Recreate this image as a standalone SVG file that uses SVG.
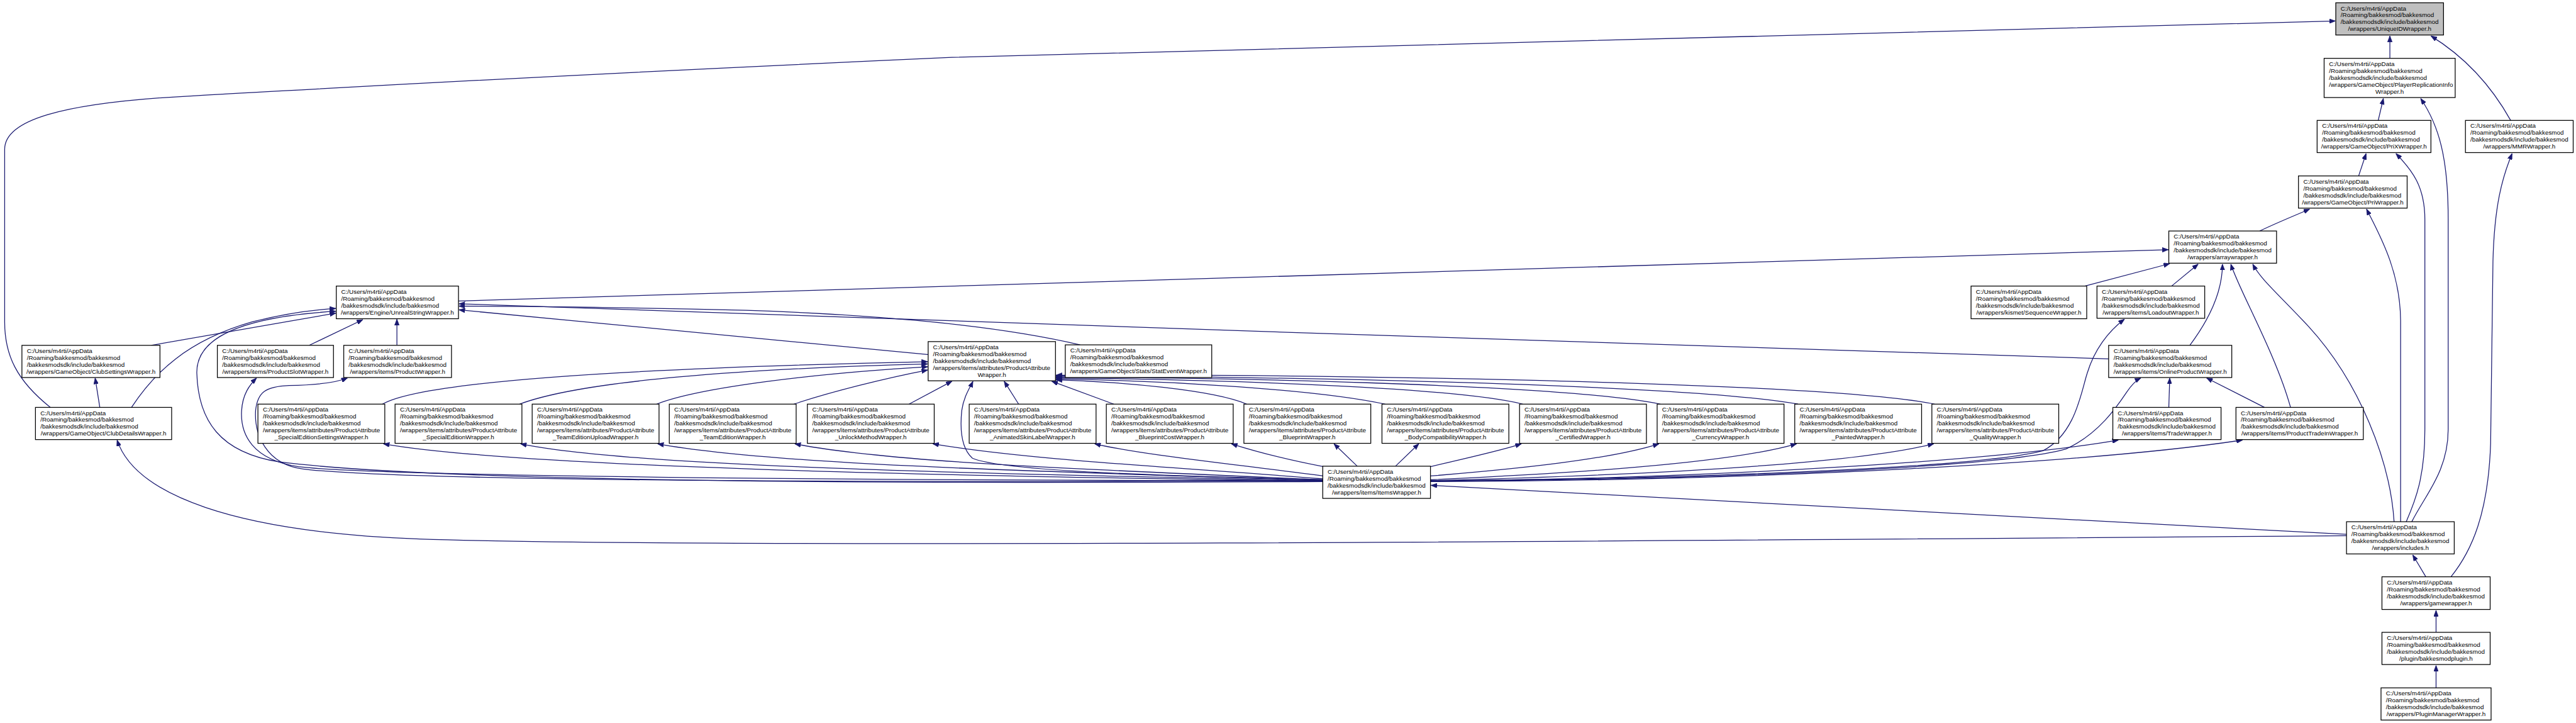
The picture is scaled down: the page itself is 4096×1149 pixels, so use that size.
<svg xmlns="http://www.w3.org/2000/svg" width="4096" height="1149" viewBox="0 0 4096 1149">
<style>
.e{fill:none;stroke:#191970;stroke-width:1.7;marker-end:url(#a)}
.n rect{fill:#fff;stroke:#000;stroke-width:1.7}
.n rect.root{fill:#bfbfbf}
.n text{font-family:"Liberation Sans",Arial,sans-serif;font-size:13.3px;fill:#000}
.n text.c{text-anchor:middle}
</style>
<defs>
<marker id="a" markerUnits="userSpaceOnUse" viewBox="0 0 13 10" refX="13" refY="5" markerWidth="13" markerHeight="10" orient="auto">
<path d="M0,0 L13,5 L0,10 z" fill="#191970" stroke="#191970" stroke-width="1"/>
</marker>
</defs>
<rect x="0" y="0" width="4096" height="1149" fill="#fff"/>
<g transform="scale(0.74162)">
<g id="edges">
<path class="e" d="M5124,125 L5124,77"/>
<path class="e" d="M5383,258 C5345,190 5290,125 5212,77"/>
<path class="e" d="M108,873 C35,815 10,760 10,690 L10,320 C10,260 120,220 420,205 C700,190 1100,165 2041,123 L5007,45"/>
<path class="e" d="M5099,258 L5110,211"/>
<path class="e" d="M5057,377 L5073,329"/>
<path class="e" d="M4845,495 C4880,478 4920,462 4952,448"/>
<path class="e" d="M5171,1118 C5200,1060 5249,1010 5249,920 L5249,470 C5249,340 5230,270 5190,211"/>
<path class="e" d="M5159,1118 C5180,1070 5199,1020 5199,920 L5199,470 C5199,400 5172,365 5137,329"/>
<path class="e" d="M5147,1118 L5147,690 C5147,580 5100,500 5074,448"/>
<path class="e" d="M5133,1118 C5125,990 5060,820 4950,700 C4885,630 4848,600 4830,566"/>
<path class="e" d="M5201,1236 L5173,1189"/>
<path class="e" d="M5255,1236 C5300,1180 5335,1100 5340,950 L5345,560 C5348,440 5365,380 5386,329"/>
<path class="e" d="M5223,1355 L5223,1308"/>
<path class="e" d="M5223,1474 L5223,1426"/>
<path class="e" d="M983,645 L4649,535"/>
<path class="e" d="M4470,613 L4652,565"/>
<path class="e" d="M4656,613 L4713,566"/>
<path class="e" d="M4695,740 C4740,680 4765,620 4765,566"/>
<path class="e" d="M4911,873 C4880,760 4800,620 4783,566"/>
<path class="e" d="M4521,769 C3500,735 2000,690 984,651"/>
<path class="e" d="M2316,739 C2150,700 1900,675 1600,665 C1300,658 1100,656 984,656"/>
<path class="e" d="M1992,760 L984,664"/>
<path class="e" d="M324,740 L720,671"/>
<path class="e" d="M282,873 C330,800 400,730 540,690 C610,672 670,664 720,661"/>
<path class="e" d="M2837,1032 C2200,1035 1000,1040 600,990 C470,970 425,900 422,800 C420,730 500,680 720,667"/>
<path class="e" d="M663,740 L778,685"/>
<path class="e" d="M851,740 L851,684"/>
<path class="e" d="M214,873 L204,810"/>
<path class="e" d="M5031,1148 C3500,1160 1500,1175 900,1155 C500,1140 290,1060 251,943"/>
<path class="e" d="M5031,1145 L3068,1040"/>
<path class="e" d="M2837,1030 C1800,1030 800,1020 640,1000 C540,985 515,930 518,880 C520,845 535,825 550,810"/>
<path class="e" d="M2837,1030 C1800,1035 850,1030 650,1005 C570,995 545,930 548,880 C552,840 570,828 620,826 C680,825 720,820 745,810"/>
<path class="e" d="M2837,1028 C2500,1020 2150,1010 2085,982 C2060,960 2058,920 2062,880 C2066,850 2080,830 2086,817"/>
<path class="e" d="M2837,1031 C2000,1020 1100,1000 822,951"/>
<path class="e" d="M2837,1030 C2100,1015 1350,1000 1116,951"/>
<path class="e" d="M2837,1029 C2200,1010 1650,995 1410,951"/>
<path class="e" d="M2837,1028 C2300,1005 1900,990 1704,951"/>
<path class="e" d="M2837,1026 C2500,1000 2200,985 2000,951"/>
<path class="e" d="M2837,1020 C2650,995 2450,975 2347,951"/>
<path class="e" d="M2838,1000 C2760,985 2700,970 2640,951"/>
<path class="e" d="M2910,999 L2860,951"/>
<path class="e" d="M2992,999 L3042,951"/>
<path class="e" d="M3067,1000 C3150,980 3220,965 3262,951"/>
<path class="e" d="M3067,1020 C3250,1005 3450,985 3557,951"/>
<path class="e" d="M3067,1028 C3350,1015 3700,995 3852,951"/>
<path class="e" d="M3067,1030 C3450,1020 3950,1000 4146,951"/>
<path class="e" d="M3067,1031 C3700,1025 4300,985 4542,943"/>
<path class="e" d="M3067,1032 C3800,1030 4500,990 4808,943"/>
<path class="e" d="M3067,1030 C3700,1025 4250,1000 4380,966 C4450,930 4462,840 4475,800 C4490,750 4520,710 4555,684"/>
<path class="e" d="M3067,1031 C3700,1028 4300,1000 4430,962 C4500,930 4540,870 4560,840 C4570,825 4580,815 4590,810"/>
<path class="e" d="M4650,873 L4652,810"/>
<path class="e" d="M4855,873 L4731,810"/>
<path class="e" d="M820,866 C900,820 1300,790 1989,775"/>
<path class="e" d="M1114,866 C1250,815 1600,790 1989,780"/>
<path class="e" d="M1408,866 C1500,830 1750,800 1989,786"/>
<path class="e" d="M1702,866 C1780,840 1900,810 1989,793"/>
<path class="e" d="M1949,866 L2041,817"/>
<path class="e" d="M2184,866 L2153,817"/>
<path class="e" d="M2388,866 L2255,817"/>
<path class="e" d="M2673,866 C2600,835 2400,818 2264,814"/>
<path class="e" d="M2970,866 C2800,830 2450,815 2264,812"/>
<path class="e" d="M3265,866 C3100,825 2500,812 2264,810"/>
<path class="e" d="M3560,866 C3350,822 2550,808 2264,808"/>
<path class="e" d="M3855,866 C3600,820 2600,805 2264,806"/>
<path class="e" d="M4148,866 C3900,815 2650,800 2264,804"/>
</g>
<g id="nodes">
<g class="n" id="uniqueid"><rect class="root" x="5008" y="6" width="231" height="69"/><text x="5018.5" y="22.3">C:/Users/m4rti/AppData</text><text x="5018.5" y="37.1">/Roaming/bakkesmod/bakkesmod</text><text x="5018.5" y="51.9">/bakkesmodsdk/include/bakkesmod</text><text class="c" x="5123.5" y="66.7">/wrappers/UniqueIDWrapper.h</text></g>
<g class="n" id="pri"><rect x="4983" y="125" width="281" height="84"/><text x="4993.5" y="141.3">C:/Users/m4rti/AppData</text><text x="4993.5" y="156.1">/Roaming/bakkesmod/bakkesmod</text><text x="4993.5" y="170.9">/bakkesmodsdk/include/bakkesmod</text><text x="4993.5" y="185.7">/wrappers/GameObject/PlayerReplicationInfo</text><text class="c" x="5123.5" y="200.5">Wrapper.h</text></g>
<g class="n" id="prix"><rect x="4968" y="258" width="244" height="69"/><text x="4978.5" y="274.3">C:/Users/m4rti/AppData</text><text x="4978.5" y="289.1">/Roaming/bakkesmod/bakkesmod</text><text x="4978.5" y="303.9">/bakkesmodsdk/include/bakkesmod</text><text class="c" x="5090" y="318.7">/wrappers/GameObject/PriXWrapper.h</text></g>
<g class="n" id="mmr"><rect x="5286" y="258" width="231" height="69"/><text x="5296.5" y="274.3">C:/Users/m4rti/AppData</text><text x="5296.5" y="289.1">/Roaming/bakkesmod/bakkesmod</text><text x="5296.5" y="303.9">/bakkesmodsdk/include/bakkesmod</text><text class="c" x="5401.5" y="318.7">/wrappers/MMRWrapper.h</text></g>
<g class="n" id="priw"><rect x="4928" y="377" width="233" height="69"/><text x="4938.5" y="393.3">C:/Users/m4rti/AppData</text><text x="4938.5" y="408.1">/Roaming/bakkesmod/bakkesmod</text><text x="4938.5" y="422.9">/bakkesmodsdk/include/bakkesmod</text><text class="c" x="5044.5" y="437.7">/wrappers/GameObject/PriWrapper.h</text></g>
<g class="n" id="array"><rect x="4650" y="495" width="231" height="69"/><text x="4660.5" y="511.3">C:/Users/m4rti/AppData</text><text x="4660.5" y="526.1">/Roaming/bakkesmod/bakkesmod</text><text x="4660.5" y="540.9">/bakkesmodsdk/include/bakkesmod</text><text class="c" x="4765.5" y="555.7">/wrappers/arraywrapper.h</text></g>
<g class="n" id="unrealstring"><rect x="721" y="613" width="262" height="70"/><text x="731.5" y="629.3">C:/Users/m4rti/AppData</text><text x="731.5" y="644.1">/Roaming/bakkesmod/bakkesmod</text><text x="731.5" y="658.9">/bakkesmodsdk/include/bakkesmod</text><text class="c" x="852" y="673.7">/wrappers/Engine/UnrealStringWrapper.h</text></g>
<g class="n" id="sequence"><rect x="4226" y="613" width="248" height="70"/><text x="4236.5" y="629.3">C:/Users/m4rti/AppData</text><text x="4236.5" y="644.1">/Roaming/bakkesmod/bakkesmod</text><text x="4236.5" y="658.9">/bakkesmodsdk/include/bakkesmod</text><text class="c" x="4350" y="673.7">/wrappers/kismet/SequenceWrapper.h</text></g>
<g class="n" id="loadout"><rect x="4496" y="613" width="231" height="69"/><text x="4506.5" y="629.3">C:/Users/m4rti/AppData</text><text x="4506.5" y="644.1">/Roaming/bakkesmod/bakkesmod</text><text x="4506.5" y="658.9">/bakkesmodsdk/include/bakkesmod</text><text class="c" x="4611.5" y="673.7">/wrappers/items/LoadoutWrapper.h</text></g>
<g class="n" id="clubsettings"><rect x="47" y="740" width="296" height="69"/><text x="57.5" y="756.3">C:/Users/m4rti/AppData</text><text x="57.5" y="771.1">/Roaming/bakkesmod/bakkesmod</text><text x="57.5" y="785.9">/bakkesmodsdk/include/bakkesmod</text><text class="c" x="195" y="800.7">/wrappers/GameObject/ClubSettingsWrapper.h</text></g>
<g class="n" id="productslot"><rect x="466" y="740" width="249" height="69"/><text x="476.5" y="756.3">C:/Users/m4rti/AppData</text><text x="476.5" y="771.1">/Roaming/bakkesmod/bakkesmod</text><text x="476.5" y="785.9">/bakkesmodsdk/include/bakkesmod</text><text class="c" x="590.5" y="800.7">/wrappers/items/ProductSlotWrapper.h</text></g>
<g class="n" id="product"><rect x="737" y="740" width="231" height="69"/><text x="747.5" y="756.3">C:/Users/m4rti/AppData</text><text x="747.5" y="771.1">/Roaming/bakkesmod/bakkesmod</text><text x="747.5" y="785.9">/bakkesmodsdk/include/bakkesmod</text><text class="c" x="852.5" y="800.7">/wrappers/items/ProductWrapper.h</text></g>
<g class="n" id="productattribute"><rect x="1990" y="732" width="273" height="84"/><text x="2000.5" y="748.3">C:/Users/m4rti/AppData</text><text x="2000.5" y="763.1">/Roaming/bakkesmod/bakkesmod</text><text x="2000.5" y="777.9">/bakkesmodsdk/include/bakkesmod</text><text x="2000.5" y="792.7">/wrappers/items/attributes/ProductAttribute</text><text class="c" x="2126.5" y="807.5">Wrapper.h</text></g>
<g class="n" id="statevent"><rect x="2284" y="739" width="314" height="70"/><text x="2294.5" y="755.3">C:/Users/m4rti/AppData</text><text x="2294.5" y="770.1">/Roaming/bakkesmod/bakkesmod</text><text x="2294.5" y="784.9">/bakkesmodsdk/include/bakkesmod</text><text class="c" x="2441" y="799.7">/wrappers/GameObject/Stats/StatEventWrapper.h</text></g>
<g class="n" id="onlineproduct"><rect x="4521" y="740" width="264" height="69"/><text x="4531.5" y="756.3">C:/Users/m4rti/AppData</text><text x="4531.5" y="771.1">/Roaming/bakkesmod/bakkesmod</text><text x="4531.5" y="785.9">/bakkesmodsdk/include/bakkesmod</text><text class="c" x="4653" y="800.7">/wrappers/items/OnlineProductWrapper.h</text></g>
<g class="n" id="clubdetails"><rect x="76" y="873" width="292" height="69"/><text x="86.5" y="889.3">C:/Users/m4rti/AppData</text><text x="86.5" y="904.1">/Roaming/bakkesmod/bakkesmod</text><text x="86.5" y="918.9">/bakkesmodsdk/include/bakkesmod</text><text class="c" x="222" y="933.7">/wrappers/GameObject/ClubDetailsWrapper.h</text></g>
<g class="n" id="pa-specialeditionsettings"><rect x="553" y="866" width="272" height="84"/><text x="563.5" y="882.3">C:/Users/m4rti/AppData</text><text x="563.5" y="897.1">/Roaming/bakkesmod/bakkesmod</text><text x="563.5" y="911.9">/bakkesmodsdk/include/bakkesmod</text><text x="563.5" y="926.7">/wrappers/items/attributes/ProductAttribute</text><text class="c" x="689" y="941.5">_SpecialEditionSettingsWrapper.h</text></g>
<g class="n" id="pa-specialedition"><rect x="847" y="866" width="272" height="84"/><text x="857.5" y="882.3">C:/Users/m4rti/AppData</text><text x="857.5" y="897.1">/Roaming/bakkesmod/bakkesmod</text><text x="857.5" y="911.9">/bakkesmodsdk/include/bakkesmod</text><text x="857.5" y="926.7">/wrappers/items/attributes/ProductAttribute</text><text class="c" x="983" y="941.5">_SpecialEditionWrapper.h</text></g>
<g class="n" id="pa-teameditionupload"><rect x="1141" y="866" width="272" height="84"/><text x="1151.5" y="882.3">C:/Users/m4rti/AppData</text><text x="1151.5" y="897.1">/Roaming/bakkesmod/bakkesmod</text><text x="1151.5" y="911.9">/bakkesmodsdk/include/bakkesmod</text><text x="1151.5" y="926.7">/wrappers/items/attributes/ProductAttribute</text><text class="c" x="1277" y="941.5">_TeamEditionUploadWrapper.h</text></g>
<g class="n" id="pa-teamedition"><rect x="1435" y="866" width="272" height="84"/><text x="1445.5" y="882.3">C:/Users/m4rti/AppData</text><text x="1445.5" y="897.1">/Roaming/bakkesmod/bakkesmod</text><text x="1445.5" y="911.9">/bakkesmodsdk/include/bakkesmod</text><text x="1445.5" y="926.7">/wrappers/items/attributes/ProductAttribute</text><text class="c" x="1571" y="941.5">_TeamEditionWrapper.h</text></g>
<g class="n" id="pa-unlockmethod"><rect x="1731" y="866" width="272" height="84"/><text x="1741.5" y="882.3">C:/Users/m4rti/AppData</text><text x="1741.5" y="897.1">/Roaming/bakkesmod/bakkesmod</text><text x="1741.5" y="911.9">/bakkesmodsdk/include/bakkesmod</text><text x="1741.5" y="926.7">/wrappers/items/attributes/ProductAttribute</text><text class="c" x="1867" y="941.5">_UnlockMethodWrapper.h</text></g>
<g class="n" id="pa-animatedskinlabel"><rect x="2078" y="866" width="272" height="84"/><text x="2088.5" y="882.3">C:/Users/m4rti/AppData</text><text x="2088.5" y="897.1">/Roaming/bakkesmod/bakkesmod</text><text x="2088.5" y="911.9">/bakkesmodsdk/include/bakkesmod</text><text x="2088.5" y="926.7">/wrappers/items/attributes/ProductAttribute</text><text class="c" x="2214" y="941.5">_AnimatedSkinLabelWrapper.h</text></g>
<g class="n" id="pa-blueprintcost"><rect x="2372" y="866" width="272" height="84"/><text x="2382.5" y="882.3">C:/Users/m4rti/AppData</text><text x="2382.5" y="897.1">/Roaming/bakkesmod/bakkesmod</text><text x="2382.5" y="911.9">/bakkesmodsdk/include/bakkesmod</text><text x="2382.5" y="926.7">/wrappers/items/attributes/ProductAttribute</text><text class="c" x="2508" y="941.5">_BlueprintCostWrapper.h</text></g>
<g class="n" id="pa-blueprint"><rect x="2667" y="866" width="272" height="84"/><text x="2677.5" y="882.3">C:/Users/m4rti/AppData</text><text x="2677.5" y="897.1">/Roaming/bakkesmod/bakkesmod</text><text x="2677.5" y="911.9">/bakkesmodsdk/include/bakkesmod</text><text x="2677.5" y="926.7">/wrappers/items/attributes/ProductAttribute</text><text class="c" x="2803" y="941.5">_BlueprintWrapper.h</text></g>
<g class="n" id="pa-bodycompatibility"><rect x="2963" y="866" width="272" height="84"/><text x="2973.5" y="882.3">C:/Users/m4rti/AppData</text><text x="2973.5" y="897.1">/Roaming/bakkesmod/bakkesmod</text><text x="2973.5" y="911.9">/bakkesmodsdk/include/bakkesmod</text><text x="2973.5" y="926.7">/wrappers/items/attributes/ProductAttribute</text><text class="c" x="3099" y="941.5">_BodyCompatibilityWrapper.h</text></g>
<g class="n" id="pa-certified"><rect x="3258" y="866" width="272" height="84"/><text x="3268.5" y="882.3">C:/Users/m4rti/AppData</text><text x="3268.5" y="897.1">/Roaming/bakkesmod/bakkesmod</text><text x="3268.5" y="911.9">/bakkesmodsdk/include/bakkesmod</text><text x="3268.5" y="926.7">/wrappers/items/attributes/ProductAttribute</text><text class="c" x="3394" y="941.5">_CertifiedWrapper.h</text></g>
<g class="n" id="pa-currency"><rect x="3553" y="866" width="272" height="84"/><text x="3563.5" y="882.3">C:/Users/m4rti/AppData</text><text x="3563.5" y="897.1">/Roaming/bakkesmod/bakkesmod</text><text x="3563.5" y="911.9">/bakkesmodsdk/include/bakkesmod</text><text x="3563.5" y="926.7">/wrappers/items/attributes/ProductAttribute</text><text class="c" x="3689" y="941.5">_CurrencyWrapper.h</text></g>
<g class="n" id="pa-painted"><rect x="3848" y="866" width="272" height="84"/><text x="3858.5" y="882.3">C:/Users/m4rti/AppData</text><text x="3858.5" y="897.1">/Roaming/bakkesmod/bakkesmod</text><text x="3858.5" y="911.9">/bakkesmodsdk/include/bakkesmod</text><text x="3858.5" y="926.7">/wrappers/items/attributes/ProductAttribute</text><text class="c" x="3984" y="941.5">_PaintedWrapper.h</text></g>
<g class="n" id="pa-quality"><rect x="4142" y="866" width="272" height="84"/><text x="4152.5" y="882.3">C:/Users/m4rti/AppData</text><text x="4152.5" y="897.1">/Roaming/bakkesmod/bakkesmod</text><text x="4152.5" y="911.9">/bakkesmodsdk/include/bakkesmod</text><text x="4152.5" y="926.7">/wrappers/items/attributes/ProductAttribute</text><text class="c" x="4278" y="941.5">_QualityWrapper.h</text></g>
<g class="n" id="trade"><rect x="4530" y="873" width="232" height="69"/><text x="4540.5" y="889.3">C:/Users/m4rti/AppData</text><text x="4540.5" y="904.1">/Roaming/bakkesmod/bakkesmod</text><text x="4540.5" y="918.9">/bakkesmodsdk/include/bakkesmod</text><text class="c" x="4646" y="933.7">/wrappers/items/TradeWrapper.h</text></g>
<g class="n" id="producttradein"><rect x="4794" y="873" width="273" height="69"/><text x="4804.5" y="889.3">C:/Users/m4rti/AppData</text><text x="4804.5" y="904.1">/Roaming/bakkesmod/bakkesmod</text><text x="4804.5" y="918.9">/bakkesmodsdk/include/bakkesmod</text><text class="c" x="4930.5" y="933.7">/wrappers/items/ProductTradeInWrapper.h</text></g>
<g class="n" id="items"><rect x="2836" y="999" width="231" height="69"/><text x="2846.5" y="1015.3">C:/Users/m4rti/AppData</text><text x="2846.5" y="1030.1">/Roaming/bakkesmod/bakkesmod</text><text x="2846.5" y="1044.9">/bakkesmodsdk/include/bakkesmod</text><text class="c" x="2951.5" y="1059.7">/wrappers/items/ItemsWrapper.h</text></g>
<g class="n" id="includes"><rect x="5031" y="1118" width="231" height="69"/><text x="5041.5" y="1134.3">C:/Users/m4rti/AppData</text><text x="5041.5" y="1149.1">/Roaming/bakkesmod/bakkesmod</text><text x="5041.5" y="1163.9">/bakkesmodsdk/include/bakkesmod</text><text class="c" x="5146.5" y="1178.7">/wrappers/includes.h</text></g>
<g class="n" id="gamewrapper"><rect x="5107" y="1236" width="232" height="70"/><text x="5117.5" y="1252.3">C:/Users/m4rti/AppData</text><text x="5117.5" y="1267.1">/Roaming/bakkesmod/bakkesmod</text><text x="5117.5" y="1281.9">/bakkesmodsdk/include/bakkesmod</text><text class="c" x="5223" y="1296.7">/wrappers/gamewrapper.h</text></g>
<g class="n" id="bakkesmodplugin"><rect x="5107" y="1355" width="232" height="69"/><text x="5117.5" y="1371.3">C:/Users/m4rti/AppData</text><text x="5117.5" y="1386.1">/Roaming/bakkesmod/bakkesmod</text><text x="5117.5" y="1400.9">/bakkesmodsdk/include/bakkesmod</text><text class="c" x="5223" y="1415.7">/plugin/bakkesmodplugin.h</text></g>
<g class="n" id="pluginmanager"><rect x="5105" y="1474" width="236" height="69"/><text x="5115.5" y="1490.3">C:/Users/m4rti/AppData</text><text x="5115.5" y="1505.1">/Roaming/bakkesmod/bakkesmod</text><text x="5115.5" y="1519.9">/bakkesmodsdk/include/bakkesmod</text><text class="c" x="5223" y="1534.7">/wrappers/PluginManagerWrapper.h</text></g>
</g>
</g>
</svg>
